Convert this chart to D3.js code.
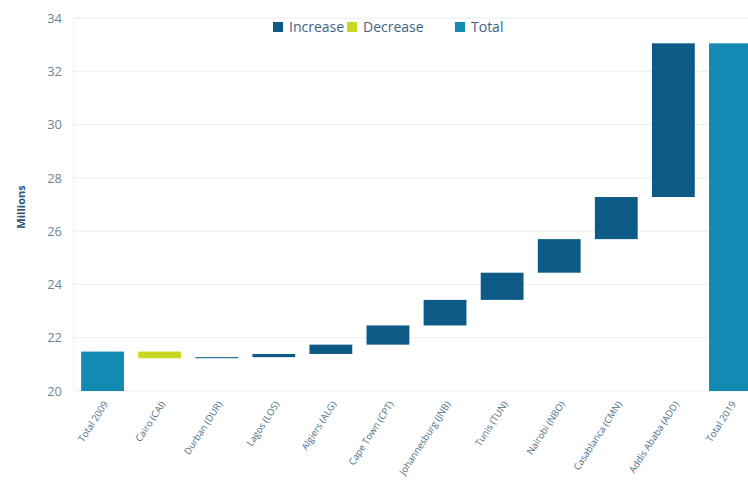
<!DOCTYPE html>
<html>
<head>
<meta charset="utf-8">
<script src="https://cdn.jsdelivr.net/npm/d3@7"></script>
<style>
  html, body { margin: 0; padding: 0; background: #ffffff; }
  svg { display: block; font-family: "Open Sans", "Noto Sans", sans-serif; }
</style>
</head>
<body>
<svg id="chart" width="748" height="493"></svg>
<script>
// Passenger traffic bridge, 2009 to 2019 (millions)
const categories = [
  "Total 2009", "Cairo (CAI)", "Durban (DUR)", "Lagos (LOS)", "Algiers (ALG)",
  "Cape Town (CPT)", "Johannesburg (JNB)", "Tunis (TUN)", "Nairobi (NBO)",
  "Casablanca (CMN)", "Addis Ababa (ADD)", "Total 2019"
];
const startTotal = 21.48;
const changes = [-0.25, 0.04, 0.12, 0.35, 0.72, 0.96, 1.02, 1.26, 1.58, 5.77];
const yTicks = [20, 22, 24, 26, 28, 30, 32, 34];
const legendItems = ["Increase", "Decrease", "Total"];

const colors = { Increase: "#0d5a86", Decrease: "#cbd622", Total: "#138ab2" };

// Build waterfall segments from the running sum
const segments = [];
let running = startTotal;
segments.push({ name: categories[0], y0: 20, y1: startTotal, type: "Total" });
changes.forEach((c, i) => {
  const prev = running;
  running = running + c;
  segments.push({
    name: categories[i + 1],
    y0: Math.min(prev, running),
    y1: Math.max(prev, running),
    type: c >= 0 ? "Increase" : "Decrease"
  });
});
segments.push({ name: categories[categories.length - 1], y0: 20, y1: running, type: "Total" });

const svg = d3.select("#chart");

const x = d3.scaleBand()
  .domain(categories)
  .range([74, 759])
  .paddingInner(0.25)
  .paddingOuter(0.125);

const y = d3.scaleLinear().domain([20, 34]).range([391, 18]);

// Gridlines
svg.append("g")
  .selectAll("line")
  .data(yTicks)
  .join("line")
  .attr("x1", 74).attr("x2", 748)
  .attr("y1", d => y(d)).attr("y2", d => y(d))
  .attr("stroke", "#e9eef2")
  .attr("stroke-width", 1);

// Y axis line
svg.append("line")
  .attr("x1", 73.5).attr("x2", 73.5)
  .attr("y1", y(34)).attr("y2", y(20))
  .attr("stroke", "#eef3f6");

// Y axis tick labels
const yAxis = d3.axisLeft(y).tickValues(yTicks).tickSize(0).tickPadding(0);
const yg = svg.append("g").attr("transform", "translate(62,0)").call(yAxis);
yg.select(".domain").remove();
yg.selectAll("text")
  .attr("fill", "#6e8594")
  .style("font-size", "13px")
  .style("font-family", "'Open Sans', sans-serif");

// Y axis title
svg.append("text")
  .attr("transform", "translate(25,207) rotate(-90)")
  .attr("text-anchor", "middle")
  .attr("fill", "#2d5877")
  .style("font-size", "11px")
  .style("font-weight", "bold")
  .text("Millions");

// Bars
svg.append("g")
  .selectAll("rect")
  .data(segments)
  .join("rect")
  .attr("x", d => x(d.name))
  .attr("width", x.bandwidth())
  .attr("y", d => y(d.y1))
  .attr("height", d => Math.max(0.6, y(d.y0) - y(d.y1)))
  .attr("fill", d => colors[d.type]);

// X axis labels (rotated)
const xAxis = d3.axisBottom(x).tickSize(0).tickPadding(0);
const xg = svg.append("g").attr("transform", "translate(0,400)").call(xAxis);
xg.select(".domain").remove();
xg.selectAll("text")
  .attr("text-anchor", "end")
  .attr("dy", "0")
  .attr("transform", "translate(6,4) rotate(-57)")
  .attr("fill", "#4f6f85")
  .style("font-size", "9.5px")
  .style("font-family", "'Open Sans', sans-serif");

// Legend
const legendX = [273, 347, 455];
const legend = svg.append("g")
  .selectAll("g")
  .data(legendItems)
  .join("g")
  .attr("transform", (d, i) => `translate(${legendX[i]},22)`);
legend.append("rect")
  .attr("width", 10).attr("height", 10)
  .attr("fill", d => colors[d]);
legend.append("text")
  .attr("x", 16).attr("y", 10)
  .attr("fill", "#3c6585")
  .style("font-size", "14px")
  .text(d => d);
</script>
</body>
</html>
